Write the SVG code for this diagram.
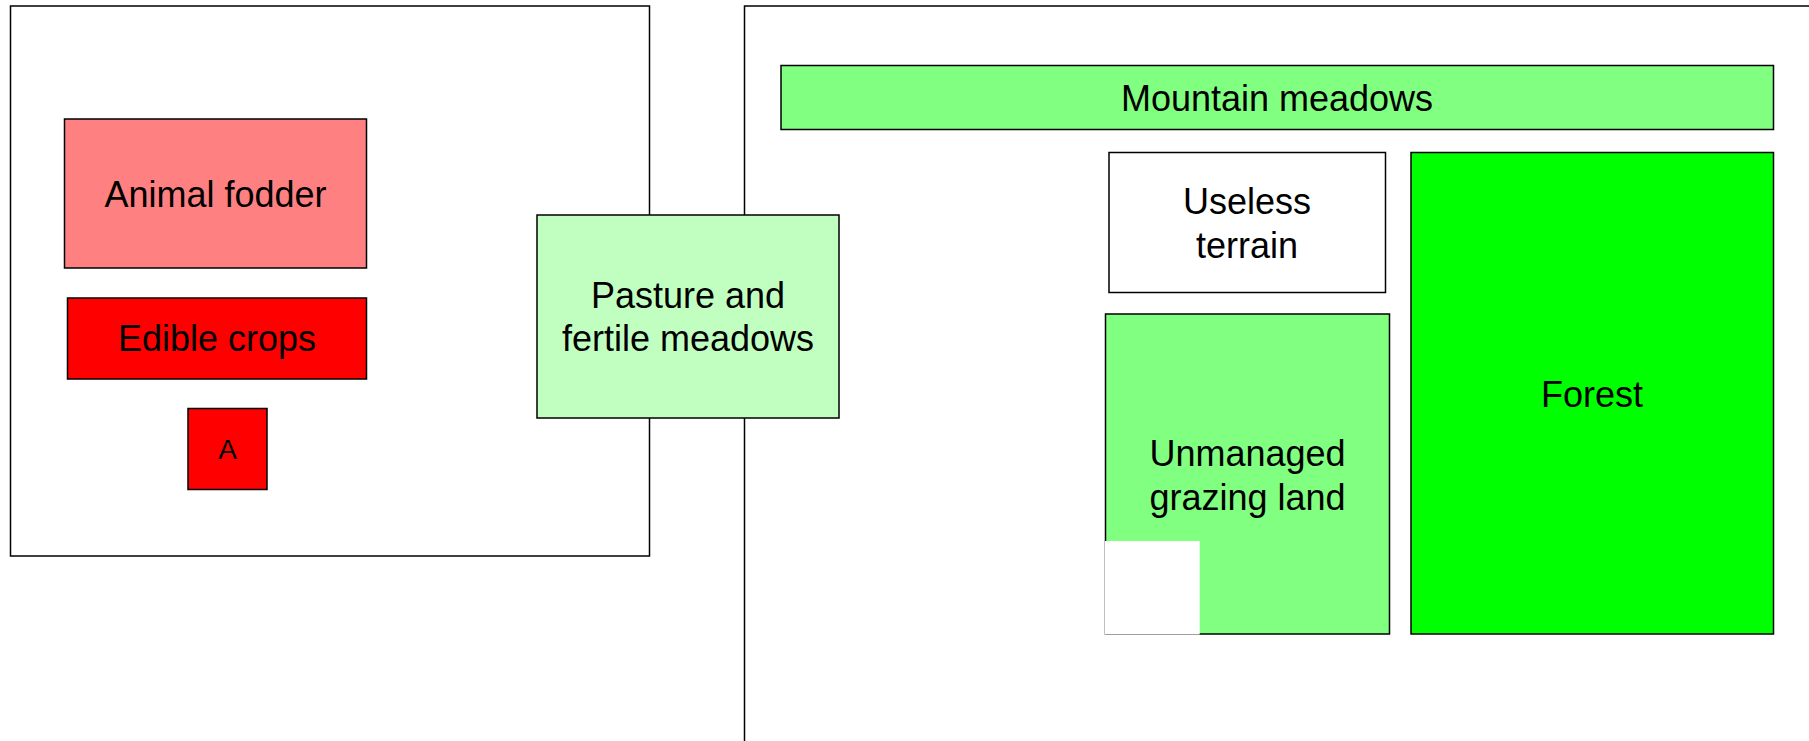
<svg xmlns="http://www.w3.org/2000/svg" width="1809" height="741" viewBox="0 0 1809 741">
<style>
.box{stroke:#000;stroke-width:1.5}
.t{font-family:"Liberation Sans",Arial,sans-serif;font-size:36px;fill:#000;text-anchor:middle}
</style>
<rect width="1809" height="741" fill="#fff"/>
<g id="container-left"><rect class="box" x="10.5" y="6" width="639" height="550" fill="#fff"/></g>
<g id="container-right"><rect class="box" x="744.5" y="6" width="1100" height="800" fill="#fff"/></g>
<g id="connectors"></g>
<g id="animal-fodder"><rect class="box" x="64.5" y="119" width="302" height="149" fill="#FF8080"/><text class="t" x="215.5" y="206.5">Animal fodder</text></g>
<g id="edible-crops"><rect class="box" x="67.5" y="298" width="299" height="81" fill="#FF0000"/><text class="t" x="217" y="351">Edible crops</text></g>
<g id="a"><rect class="box" x="188" y="408.5" width="79" height="81" fill="#FF0000"/><text class="t" x="227.5" y="459" style="font-size:28px">A</text></g>
<g id="pasture"><rect class="box" x="537" y="215" width="302" height="203" fill="#C0FFC0"/><text class="t" x="688" y="307.5">Pasture and</text><text class="t" x="688" y="351">fertile meadows</text></g>
<g id="mountain-meadows"><rect class="box" x="781" y="65.5" width="992.5" height="64" fill="#80FF80"/><text class="t" x="1277" y="111">Mountain meadows</text></g>
<g id="useless-terrain"><rect class="box" x="1109" y="152.5" width="276.5" height="140" fill="#fff"/><text class="t" x="1247" y="213.5">Useless</text><text class="t" x="1247" y="257.5">terrain</text></g>
<g id="unmanaged"><rect class="box" x="1105.5" y="314" width="284" height="320" fill="#80FF80"/><text class="t" x="1247.5" y="465.5">Unmanaged</text><text class="t" x="1247.5" y="509.5">grazing land</text><rect x="1105" y="541" width="94.7" height="93.5" fill="#fff"/></g>
<g id="forest"><rect class="box" x="1411" y="152.5" width="362.5" height="481.5" fill="#00FF00"/><text class="t" x="1592" y="406.5">Forest</text></g>
</svg>
